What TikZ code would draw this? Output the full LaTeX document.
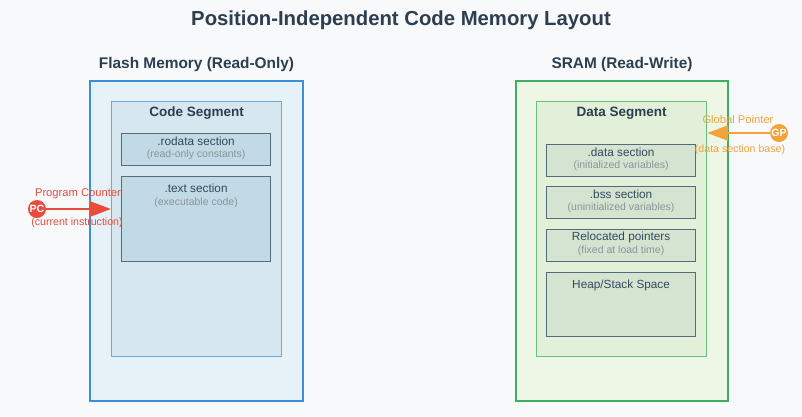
\documentclass[tikz,border=0pt]{standalone}
\usepackage{fontspec}
\setmainfont{Liberation Sans}
\usetikzlibrary{positioning,arrows.meta}

\definecolor{titlecol}{HTML}{2C3E50}
\definecolor{textcol}{HTML}{34495E}
\definecolor{subcol}{HTML}{8A949C}
\definecolor{bgcol}{HTML}{F7F9FB}
\definecolor{flashdraw}{HTML}{3A8FD6}
\definecolor{flashfill}{HTML}{E6F1F8}
\definecolor{codedraw}{HTML}{6FAAD2}
\definecolor{codefill}{HTML}{D6E7F0}
\definecolor{codesec}{HTML}{C2D9E6}
\definecolor{sramdraw}{HTML}{3FAE62}
\definecolor{sramfill}{HTML}{EEF6E6}
\definecolor{datadraw}{HTML}{6CC07F}
\definecolor{datafill}{HTML}{E2F0DA}
\definecolor{datasec}{HTML}{D5E4D1}
\definecolor{secdraw}{HTML}{566A7C}
\definecolor{pccol}{HTML}{E74C3C}
\definecolor{gpcol}{HTML}{F4A23A}

\tikzset{
  memory/.style={draw, line width=2pt, anchor=north west, inner sep=0pt},
  segment/.style={draw, line width=1.2pt, anchor=north west, inner sep=0pt},
  section/.style={draw=secdraw, line width=1.2pt, anchor=north west, inner sep=0pt},
  heading/.style={font=\bfseries\fontsize{15.4}{18}\selectfont, text=titlecol},
  seghead/.style={font=\bfseries\fontsize{13.5}{16}\selectfont, text=titlecol},
  secname/.style={font=\fontsize{11.8}{14}\selectfont, text=textcol, inner sep=0pt},
  secnote/.style={font=\fontsize{10.5}{12}\selectfont, text=subcol, inner sep=0pt},
  pointer/.style={circle, minimum size=18pt, inner sep=0pt, text=white,
    font=\bfseries\fontsize{10.5}{12}\selectfont},
  ptrnote/.style={font=\fontsize{11.2}{13}\selectfont, inner sep=0pt},
  ptrsub/.style={font=\fontsize{10.6}{12}\selectfont, inner sep=0pt}
}

\begin{document}
\begin{tikzpicture}[x=1pt, y=-1pt, node distance=8pt]
  \fill[bgcol] (0,0) rectangle (802,416);
  \useasboundingbox (0,0) rectangle (802,416);

  \node[font=\bfseries\fontsize{20.3}{24}\selectfont, text=titlecol] (title) at (401,20)
    {Position-Independent Code Memory Layout};

  % flash side
  \node[memory, draw=flashdraw, fill=flashfill, minimum width=213pt, minimum height=320pt]
    (flash) at (89,80) {};
  \node[heading] (flashlbl) at ([yshift=15pt]flash.north) {Flash Memory (Read-Only)};
  \node[segment, draw=codedraw, fill=codefill, minimum width=170pt, minimum height=255pt]
    (codeseg) at (111,101) {};
  \node[seghead] (codelbl) at ([yshift=-12pt]codeseg.north) {Code Segment};
  \node[section, fill=codesec, minimum width=149pt, minimum height=32pt]
    (rodata) at (121,133) {};
  \node[secname] (rodataname) at ([yshift=-8pt]rodata.north) {.rodata section};
  \node[secnote] (rodatanote) at ([yshift=-22pt]rodata.north) {(read-only constants)};
  \node[section, fill=codesec, minimum width=149pt, minimum height=85pt]
    (textsec) at (121,176) {};
  \node[secname] (textname) at ([yshift=-12pt]textsec.north) {.text section};
  \node[secnote] (textnote) at ([yshift=-27pt]textsec.north) {(executable code)};

  % sram side
  \node[memory, draw=sramdraw, fill=sramfill, minimum width=212pt, minimum height=320pt]
    (sram) at (515,80) {};
  \node[heading] (sramlbl) at ([yshift=15pt]sram.north) {SRAM (Read-Write)};
  \node[segment, draw=datadraw, fill=datafill, minimum width=170pt, minimum height=255pt]
    (dataseg) at (536,101) {};
  \node[seghead] (datalbl) at ([yshift=-12pt]dataseg.north) {Data Segment};
  \node[section, fill=datasec, minimum width=149pt, minimum height=32pt]
    (datasec) at (546,144) {};
  \node[secname] (dataname) at ([yshift=-8pt]datasec.north) {.data section};
  \node[secnote] (datanote) at ([yshift=-22pt]datasec.north) {(initialized variables)};
  \node[section, fill=datasec, minimum width=149pt, minimum height=32pt]
    (bss) at (546,186) {};
  \node[secname] (bssname) at ([yshift=-8pt]bss.north) {.bss section};
  \node[secnote] (bssnote) at ([yshift=-22pt]bss.north) {(uninitialized variables)};
  \node[section, fill=datasec, minimum width=149pt, minimum height=32pt]
    (reloc) at (546,229) {};
  \node[secname] (relocname) at ([yshift=-8pt]reloc.north) {Relocated pointers};
  \node[secnote] (relocnote) at ([yshift=-22pt]reloc.north) {(fixed at load time)};
  \node[section, fill=datasec, minimum width=149pt, minimum height=64pt]
    (heap) at (546,272) {};
  \node[secname] (heapname) at ([yshift=-13pt]heap.north) {Heap/Stack Space};

  % pointers
  \node[pointer, fill=pccol] (pc) at (37,209) {PC};
  \draw[pccol, line width=2.5pt, -{Triangle[length=21pt,width=15pt]}]
    (pc) -- (pc -| codeseg.west);
  \node[ptrnote, text=pccol] (pcname) at (78,194) {Program Counter};
  \node[ptrsub, text=pccol] (pcnote) at (77,223) {(current instruction)};

  \node[pointer, fill=gpcol] (gp) at (779,133) {GP};
  \draw[gpcol, line width=2.5pt, -{Triangle[length=21pt,width=15pt]}]
    (gp) -- (gp -| dataseg.east);
  \node[ptrnote, text=gpcol] (gpname) at (738,119) {Global Pointer};
  \node[ptrsub, text=gpcol] (gpnote) at (740,150) {(data section base)};
\end{tikzpicture}
\end{document}
